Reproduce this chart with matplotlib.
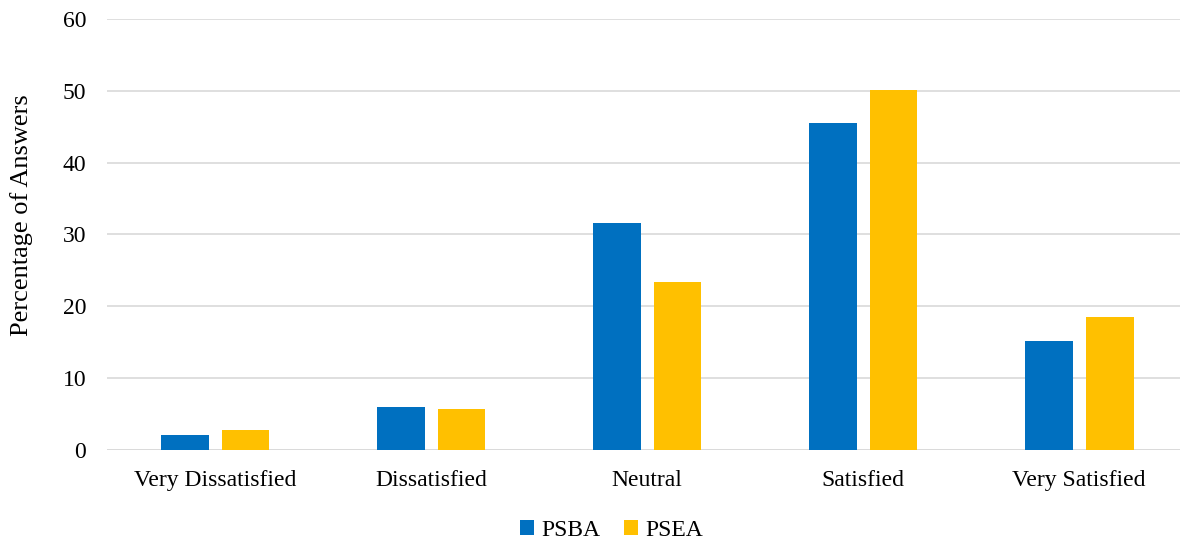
import numpy as np
import matplotlib.pyplot as plt

categories = ["Very Dissatisfied", "Dissatisfied", "Neutral", "Satisfied", "Very Satisfied"]
psba = [2.0, 5.9, 31.6, 45.5, 15.2]
psea = [2.8, 5.7, 23.4, 50.1, 18.5]

plt.rcParams['font.family'] = ['Liberation Serif', 'DejaVu Serif']

fig = plt.figure(figsize=(11.8, 5.4), dpi=100)
ax = fig.add_axes([0.0907, 0.167, 0.9153, 0.798])

x = np.arange(len(categories))
w = 0.222
ax.bar(x - 0.141, psba, w, color='#0070c0', label='PSBA', zorder=2)
ax.bar(x + 0.141, psea, w, color='#ffc000', label='PSEA', zorder=2)

ax.set_xlim(-0.5, len(categories) - 0.5)
ax.set_ylim(0, 60)
ax.set_yticks(range(0, 61, 10))
ax.set_xticks(x)
ax.set_xticklabels(categories)
ax.yaxis.grid(True, color='#d9d9d9', linewidth=1.2, zorder=0)
ax.set_axisbelow(True)
for s in ['top', 'right', 'left', 'bottom']:
    ax.spines[s].set_visible(False)
ax.tick_params(axis='both', length=0, labelsize=17, colors='#000000')
ax.tick_params(axis='y', pad=15)
ax.tick_params(axis='x', pad=14.2)
ax.axhline(0, color='#d9d9d9', linewidth=1.2, zorder=1)

ax.set_ylabel("Percentage of Answers", fontsize=19)
ax.yaxis.set_label_coords(-0.0685, 0.544)

fig.legend(loc='lower center', bbox_to_anchor=(0.518, -0.041), ncol=2, frameon=False,
           fontsize=17, handlelength=0.6, handleheight=0.6, handletextpad=0.3, columnspacing=1.0)

fig.savefig("out.png", dpi=100)
